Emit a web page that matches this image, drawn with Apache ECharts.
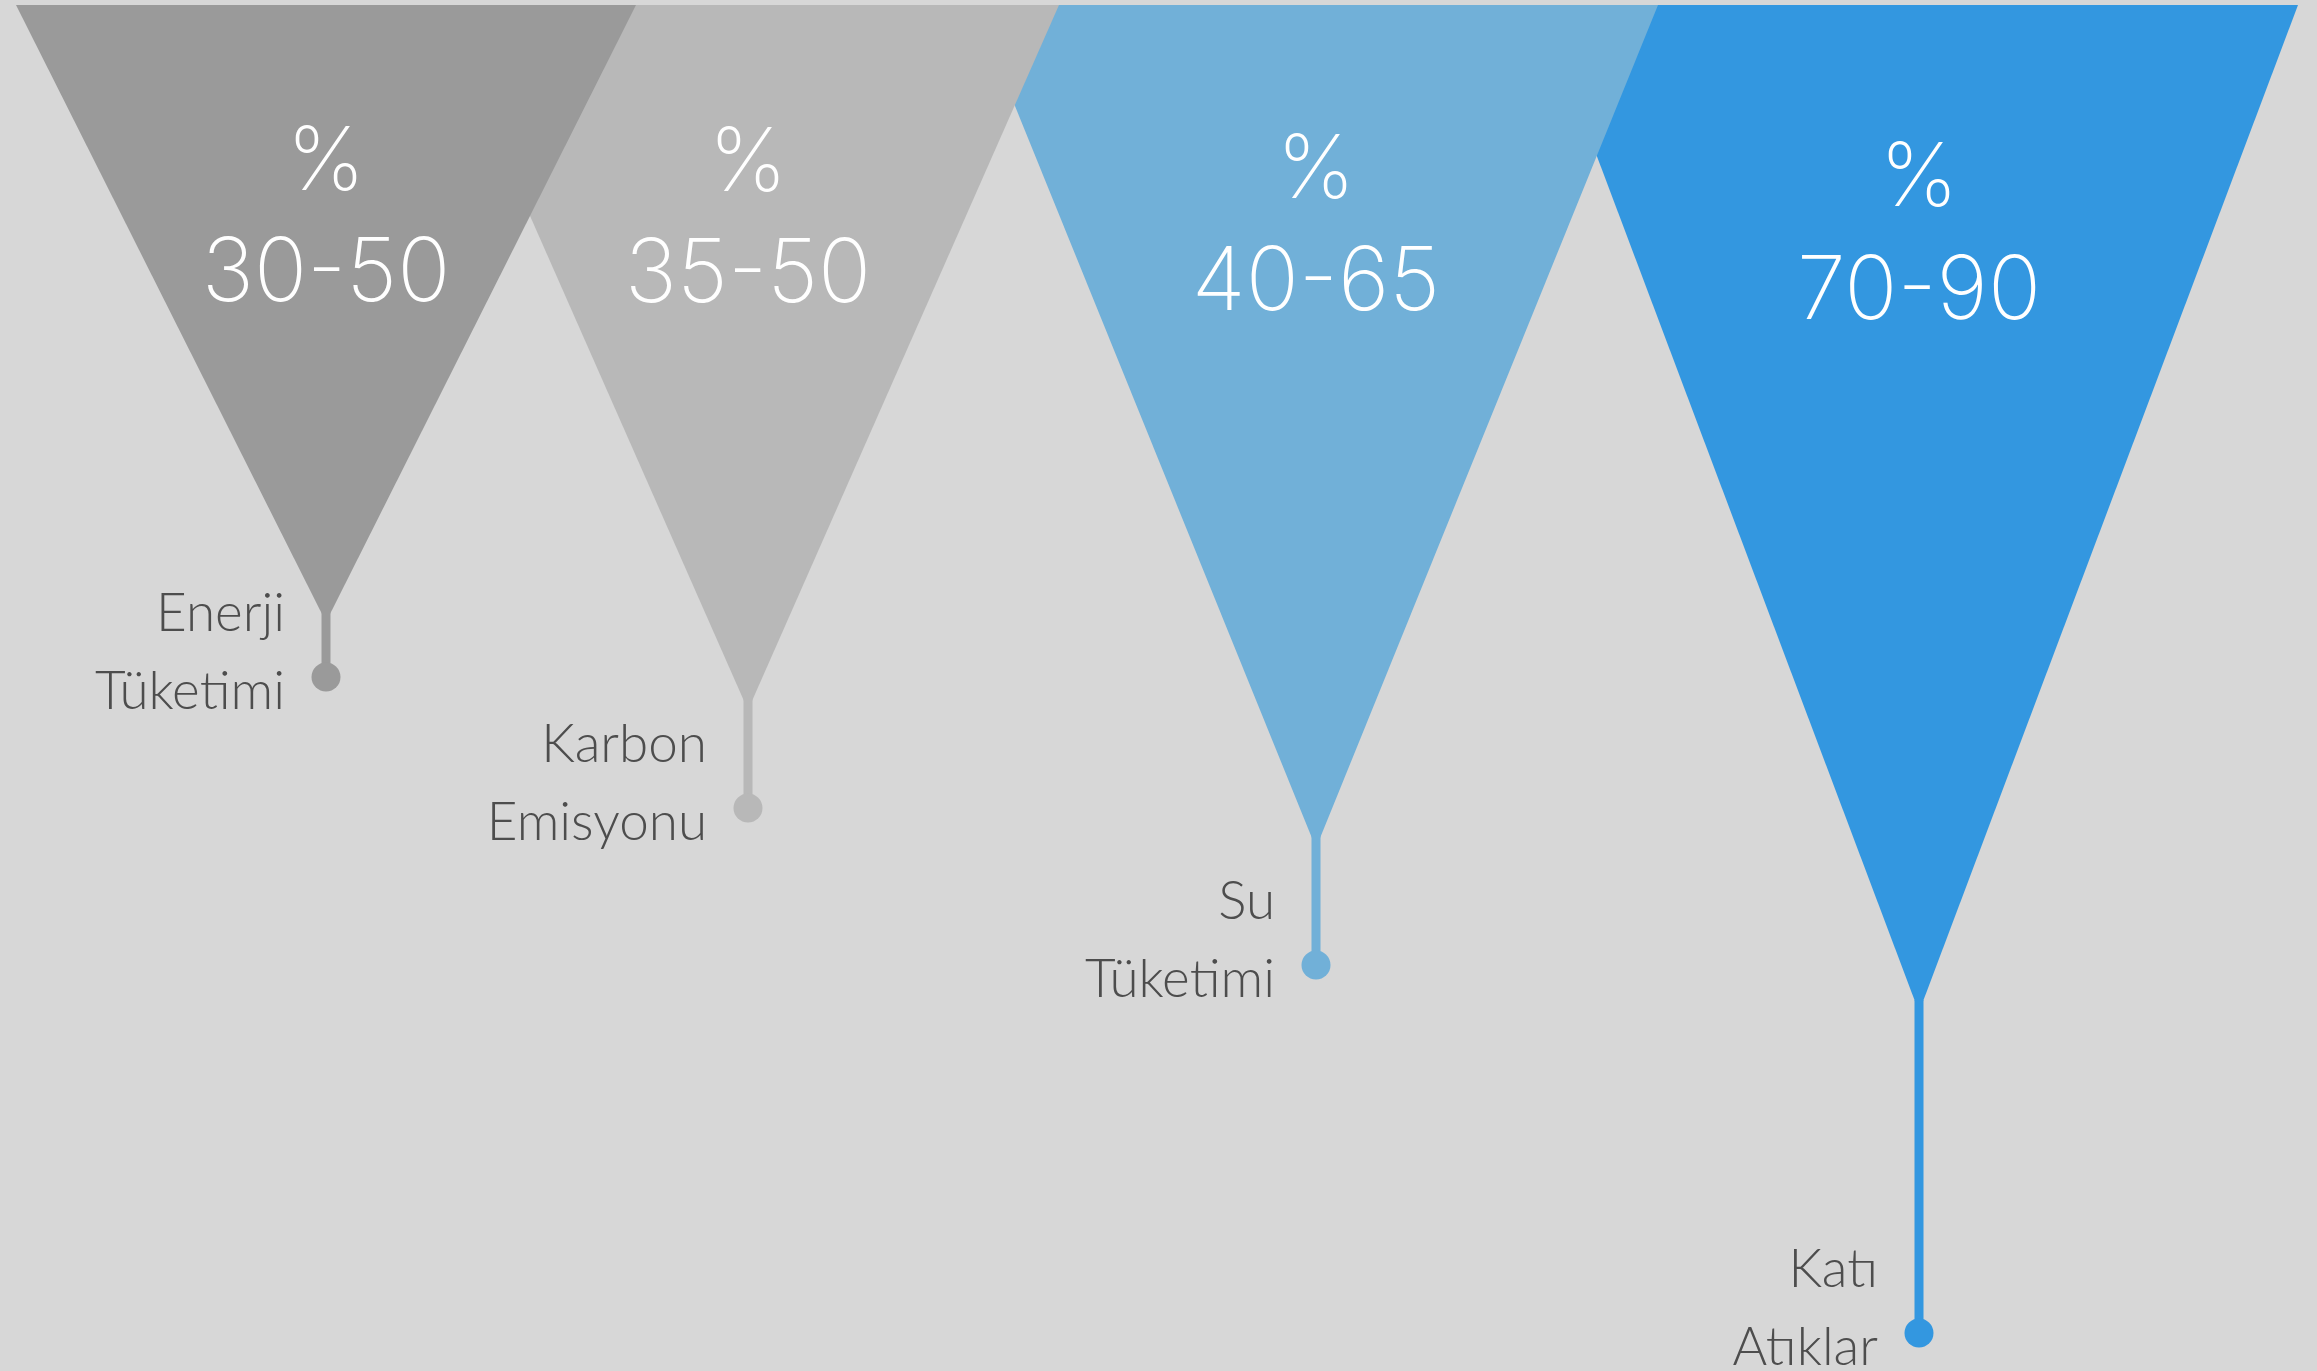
<!DOCTYPE html>
<html>
<head>
<meta charset="utf-8">
<script src="https://cdn.jsdelivr.net/npm/echarts@6/dist/echarts.min.js"></script>
<style>
html,body{margin:0;padding:0;background:#d7d7d7;}
#chart{width:2317px;height:1371px;}
</style>
</head>
<body>
<div id="chart"></div>
<script>
// ---- data ----
const categories = ['Enerji\nTüketimi', 'Karbon\nEmisyonu', 'Su\nTüketimi', 'Katı\nAtıklar'];
const rangeLabels = ['30-50', '35-50', '40-65', '70-90'];
const centers = [326, 748, 1316, 1919];      // horizontal position (x-axis units)
const halfWidths = [310, 311, 342, 379];     // half width of funnel mouth (x-axis units)
const apexDepths = [617, 705, 843, 1007];    // depth of funnel tip (y-axis units)
const dotDepths = [672, 803, 960, 1328];     // depth of the end dot (y-axis units)

const palette = ['#9a9a9a', '#b8b8b8', '#71b0d8', '#3397e0'];

const seriesData = categories.map((c, i) => [centers[i], halfWidths[i], apexDepths[i], dotDepths[i], i]);

const chart = echarts.init(document.getElementById('chart'), null, {renderer: 'canvas'});

function renderItem(params, api) {
  const cx = api.value(0), hw = api.value(1), apex = api.value(2), dot = api.value(3);
  const i = api.value(4);
  const n = categories.length;
  const tl = api.coord([cx - hw, 0]);
  const tr = api.coord([cx + hw, 0]);
  const ap = api.coord([cx, apex]);
  const dt = api.coord([cx, dot]);
  const color = palette[i];
  const zb = (n - i) * 10;
  const halfPx = (tr[0] - tl[0]) / 2;
  const pctY = tl[1] + 159 + 0.23 * (halfPx - 310);
  const numY = tl[1] + 270 + 0.26 * (halfPx - 310);
  return {
    type: 'group',
    children: [
      {
        type: 'polygon',
        z2: zb,
        shape: {points: [tl, tr, ap]},
        style: {fill: color}
      },
      {
        type: 'rect',
        z2: zb,
        shape: {x: ap[0] - 4.5, y: ap[1] - 12, width: 9, height: dt[1] - ap[1] + 12},
        style: {fill: color}
      },
      {
        type: 'circle',
        z2: zb,
        shape: {cx: dt[0], cy: dt[1], r: 14.5},
        style: {fill: color}
      },
      {
        type: 'text',
        z2: 100,
        style: {
          text: '%', x: ap[0], y: pctY, align: 'center', verticalAlign: 'middle',
          fill: '#ffffff', fontSize: 88, fontWeight: 200, fontFamily: 'Inter, Roboto'
        }
      },
      {
        type: 'text',
        z2: 100,
        style: {
          text: rangeLabels[i], x: ap[0], y: numY, align: 'center', verticalAlign: 'middle',
          fill: '#ffffff', fontSize: 88, fontWeight: 200, fontFamily: 'Inter, Roboto'
        }
      },
      {
        type: 'text',
        z2: 100,
        style: {
          text: categories[i], x: dt[0] - 41, y: dt[1] - 24, align: 'right', verticalAlign: 'middle',
          fill: '#4d4d4d', fontSize: 53, fontWeight: 300, fontFamily: 'Lato', lineHeight: 78
        }
      }
    ]
  };
}

chart.setOption({
  backgroundColor: '#d7d7d7',
  animation: false,
  grid: {left: 0, right: 0, top: 0, bottom: 0},
  xAxis: {type: 'value', min: 0, max: 2317, show: false},
  yAxis: {type: 'value', min: -5, max: 1366, inverse: true, show: false},
  series: [{
    type: 'custom',
    renderItem: renderItem,
    data: seriesData,
    silent: true,
    clip: false
  }]
});
</script>
</body>
</html>
